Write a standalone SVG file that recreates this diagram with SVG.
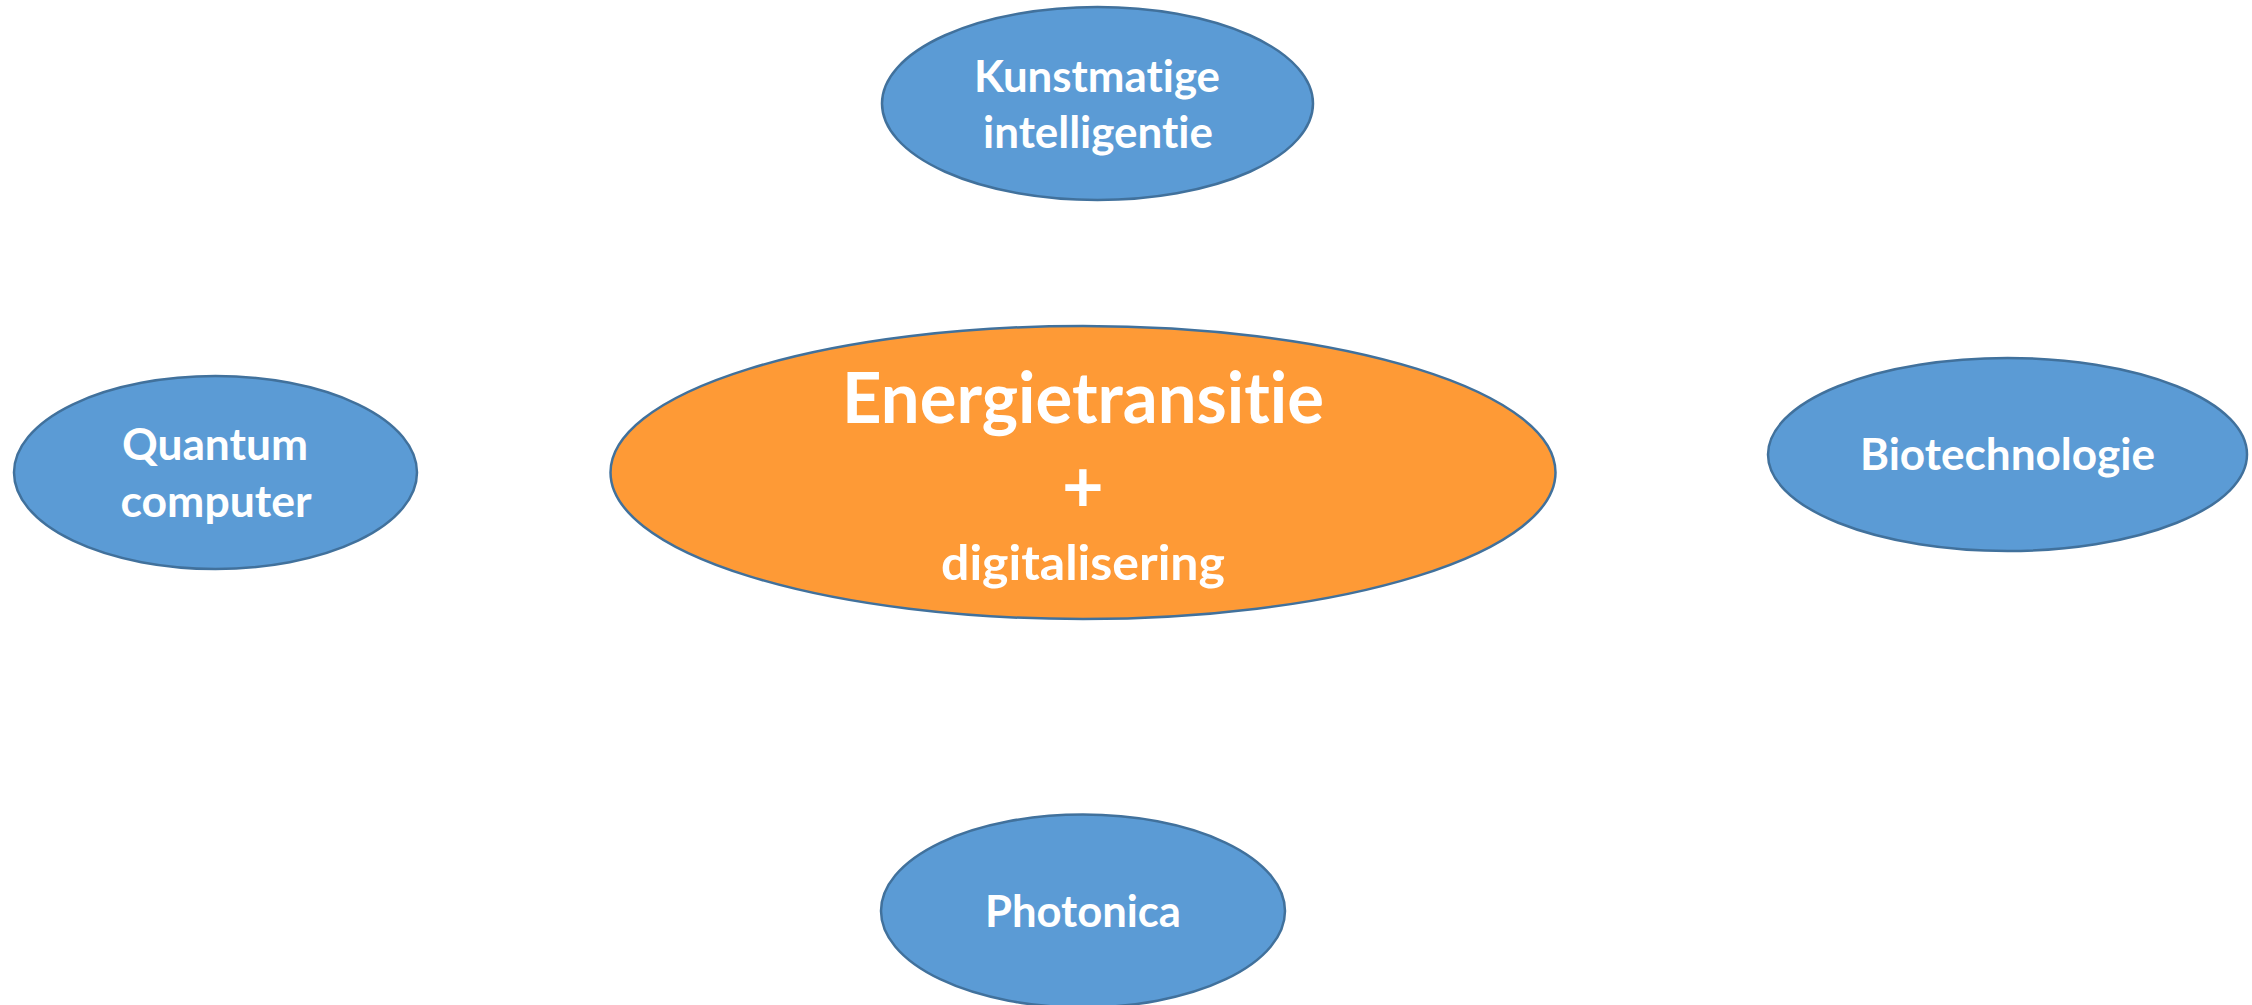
<svg xmlns="http://www.w3.org/2000/svg" width="2252" height="1005" viewBox="0 0 2252 1005">
<style>
.blue{fill:#5B9BD5;stroke:#41719C;stroke-width:2.5}
.orange{fill:#FE9A36;stroke:#41719C;stroke-width:2.5}
text{font-family:Lato,"Open Sans","Liberation Sans",sans-serif;font-weight:bold;fill:#FFFFFF;text-anchor:middle;font-variant-ligatures:none;font-feature-settings:"liga" 0}
.s{font-size:43px}
</style>
<rect width="2252" height="1005" fill="#FFFFFF"/>
<g id="connectors"></g>
<g id="node-ki">
<ellipse class="blue" cx="1097.5" cy="103.5" rx="215.5" ry="96.5"/>
<text class="s" x="1097" y="92" textLength="246" lengthAdjust="spacingAndGlyphs">Kunstmatige</text>
<text class="s" x="1098" y="148" textLength="230" lengthAdjust="spacingAndGlyphs">intelligentie</text>
</g>
<g id="node-center">
<ellipse class="orange" cx="1083" cy="472.5" rx="472.5" ry="146.5"/>
<text x="1083" y="423" font-size="70" textLength="482" lengthAdjust="spacingAndGlyphs">Energietransitie</text>
<text x="1083" y="512" font-size="72">+</text>
<text x="1083" y="580" font-size="47" textLength="284" lengthAdjust="spacingAndGlyphs">digitalisering</text>
</g>
<g id="node-quantum">
<ellipse class="blue" cx="215.5" cy="472.5" rx="201.5" ry="96.5"/>
<text class="s" x="215" y="460" textLength="186" lengthAdjust="spacingAndGlyphs">Quantum</text>
<text class="s" x="216" y="517" textLength="191" lengthAdjust="spacingAndGlyphs">computer</text>
</g>
<g id="node-bio">
<ellipse class="blue" cx="2007.5" cy="454.5" rx="239.5" ry="96.5"/>
<text class="s" x="2007.5" y="470" textLength="295" lengthAdjust="spacingAndGlyphs">Biotechnologie</text>
</g>
<g id="node-photonica">
<ellipse class="blue" cx="1083" cy="911" rx="202" ry="96.5"/>
<text class="s" x="1083" y="927" textLength="196" lengthAdjust="spacingAndGlyphs">Photonica</text>
</g>
</svg>
